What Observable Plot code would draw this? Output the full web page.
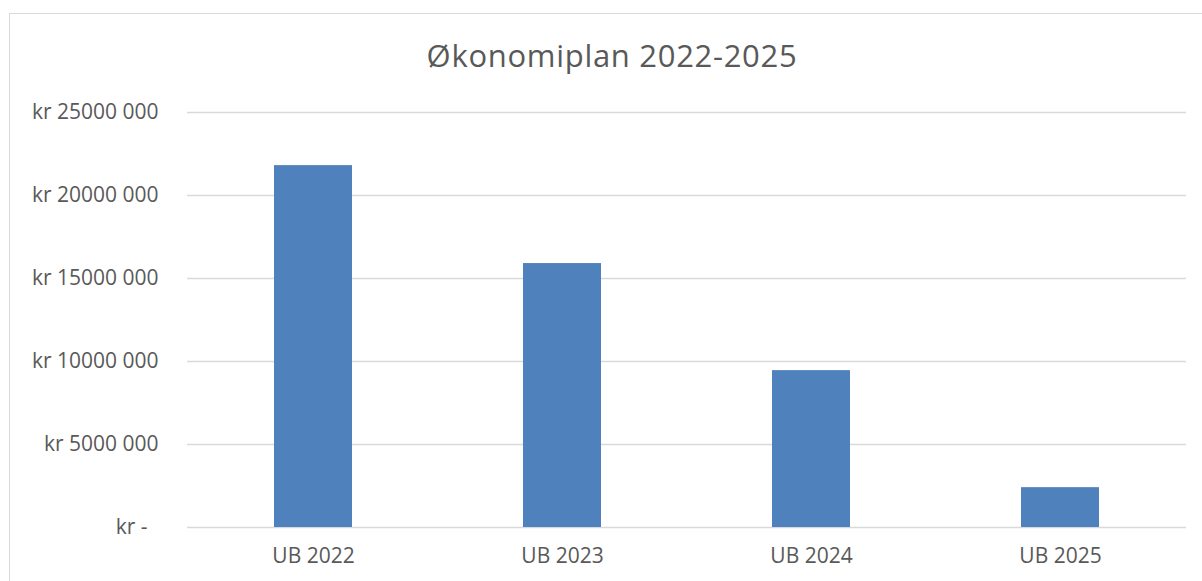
<!DOCTYPE html>
<html>
<head>
<meta charset="utf-8">
<script src="https://cdn.jsdelivr.net/npm/d3@7"></script>
<script src="https://cdn.jsdelivr.net/npm/@observablehq/plot@0.6"></script>
<style>
  html, body { margin: 0; padding: 0; background: #fff; }
  body { width: 1202px; height: 581px; position: relative; overflow: hidden; font-family: "Open Sans", sans-serif; }
  #frame { position: absolute; left: 9px; top: 13px; width: 1200px; height: 600px; border: 1.5px solid #d9d9d9; box-sizing: border-box; }
  #title { position: absolute; left: 0; width: 1224px; top: 35px; text-align: center; font-size: 31px; color: #595959; letter-spacing: 0.7px; line-height: 40px; }
  #chart { position: absolute; left: 0; top: 90px; }
</style>
</head>
<body>
<div id="frame"></div>
<div id="title">Økonomiplan 2022-2025</div>
<div id="chart"></div>
<script>
const categories = ["UB 2022", "UB 2023", "UB 2024", "UB 2025"];
const values = [21800000, 15900000, 9450000, 2400000];
const yTicks = [0, 5000000, 10000000, 15000000, 20000000, 25000000];

const data = categories.map((c, i) => ({category: c, value: values[i]}));
const fmt = d => d === 0 ? "kr -\u00a0\u00a0" : "kr " + Math.round(d / 1000) + " 000";

const chart = Plot.plot({
  width: 1202,
  height: 491,
  marginTop: 22,
  marginBottom: 54,
  marginLeft: 187,
  marginRight: 16,
  style: {fontFamily: "Open Sans", fontSize: "21px", color: "#595959", background: "transparent", overflow: "visible"},
  x: {domain: categories, paddingInner: 0.688, paddingOuter: 0.344, axis: null, label: null},
  y: {domain: [0, 25000000], axis: null, label: null},
  marks: [
    Plot.gridY(yTicks, {stroke: "#d9d9d9", strokeOpacity: 1, strokeWidth: 1.5}),
    Plot.barY(data, {x: "category", y: "value", fill: "#4f81bd"}),
    Plot.axisY(yTicks, {tickFormat: fmt, tickSize: 0, tickPadding: 29, fill: "#595959", fontSize: 21, label: null}),
    Plot.axisX({tickSize: 0, tickPadding: 21, fill: "#595959", fontSize: 21, label: null})
  ]
});
document.getElementById("chart").appendChild(chart);
</script>
</body>
</html>
